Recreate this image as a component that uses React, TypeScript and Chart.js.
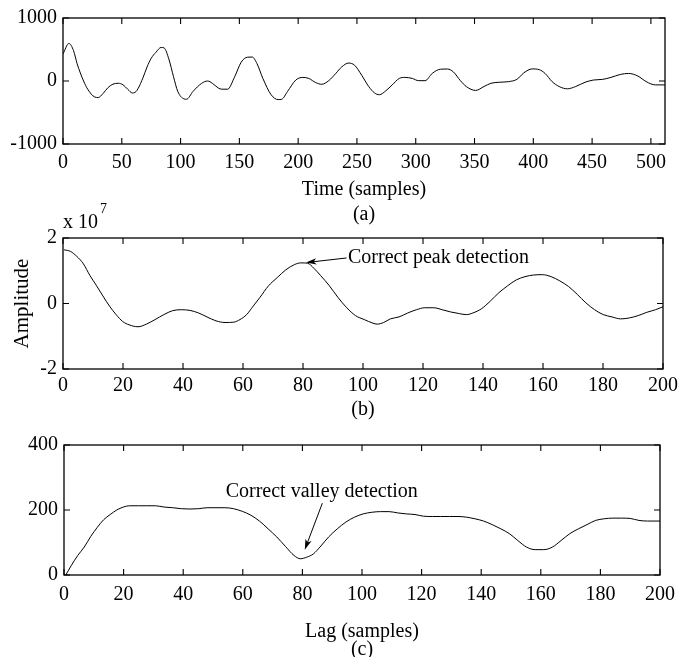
import React, { useEffect, useRef } from 'react';
import { Chart, registerables } from 'chart.js';

Chart.register(...registerables);

// ---------- DATA ----------
// (a) time signal
const timeX = [0, 5, 9, 12, 17.5, 21, 27, 30, 34, 38, 42.5, 47, 51, 55, 59, 62, 64, 68, 71.5, 75, 79, 83.5, 86, 90, 94, 97.6, 103, 105, 110.6, 118, 123, 127, 132, 135, 140, 146, 151.6, 157, 161, 165, 170, 177, 183, 186, 191, 198, 204, 209, 215, 220, 226, 232, 237, 243, 248, 254, 260, 265, 269, 274.6, 280, 286, 291, 297, 302.5, 308, 314, 321, 327, 332, 338, 343, 351, 358, 364, 371, 379, 386, 392, 399, 405, 410, 416, 422, 429, 436, 444, 451, 459, 466, 474, 481, 489, 496, 504, 512];
const timeY = [430, 596, 480, 275, 0, -130, -254, -262, -200, -110, -50, -36, -60, -130, -190, -170, -115, 50, 223, 360, 455, 533, 525, 350, 67, -165, -285, -290, -165, -36, 0, -36, -110, -130, -130, 67, 300, 378, 380, 275, 41, -218, -295, -290, -165, 15, 57, 41, -26, -52, 5, 120, 223, 285, 250, 93, -88, -190, -218, -155, -62, 41, 57, 41, 5, 5, 120, 187, 190, 145, 5, -88, -150, -88, -36, -20, -10, 26, 130, 192, 180, 120, -10, -88, -124, -88, -20, 15, 26, 57, 104, 120, 78, -10, -62, -62];

// (b) autocorrelation (x 10^7)
const lagB = [0.3, 2.5, 4.6, 6.8, 9, 11.2, 13.3, 15.5, 17.7, 19.9, 22, 25, 27.8, 30.7, 33.6, 36.5, 39.4, 42.3, 45.2, 48, 51, 54, 56.9, 59, 61.2, 63.4, 65.6, 68.5, 71.4, 74.3, 77.2, 79.3, 81.5, 83.7, 85.9, 88.8, 91.7, 94.6, 97.5, 100.4, 103.3, 104.7, 106.9, 109.1, 112, 114.9, 117.8, 120.6, 123.6, 126.4, 129.3, 132.2, 134.4, 136.6, 139.5, 142.4, 145.3, 148.2, 151.1, 154, 156.9, 159.8, 162.7, 165.6, 168.5, 171.4, 174.3, 177.2, 180.1, 183, 185.9, 188.8, 191.7, 194.6, 197.5, 200];
const acfY = [1.64, 1.59, 1.44, 1.21, 0.85, 0.54, 0.23, -0.08, -0.34, -0.55, -0.65, -0.71, -0.63, -0.49, -0.34, -0.22, -0.19, -0.21, -0.29, -0.41, -0.53, -0.58, -0.57, -0.49, -0.34, -0.08, 0.18, 0.54, 0.79, 1.03, 1.19, 1.24, 1.23, 1.07, 0.85, 0.54, 0.18, -0.13, -0.37, -0.49, -0.6, -0.63, -0.58, -0.47, -0.41, -0.29, -0.19, -0.13, -0.13, -0.19, -0.26, -0.31, -0.34, -0.29, -0.16, 0.07, 0.33, 0.54, 0.72, 0.82, 0.87, 0.88, 0.82, 0.69, 0.52, 0.28, 0.02, -0.19, -0.34, -0.41, -0.47, -0.44, -0.37, -0.27, -0.19, -0.1];

// (c) AMDF
const lagC = [0.6, 2.5, 4.6, 6.8, 9, 11.2, 13.3, 15.5, 17.7, 19.9, 22, 25, 27.8, 30.7, 33.6, 36.5, 39.4, 42.3, 45.2, 48, 51, 54, 56.9, 59.8, 62.7, 65.6, 68.5, 71.4, 74.3, 77.2, 79.3, 81.5, 83.7, 85.9, 88.8, 91.7, 94.6, 97.5, 100.4, 103.3, 106.2, 109.1, 112, 114.9, 117.8, 120.6, 123.6, 126.4, 129.3, 132.2, 135, 137.9, 140.8, 143.7, 146.6, 149.5, 152.3, 155.2, 158.1, 161, 163.9, 166.8, 169.7, 172.6, 175.5, 178.4, 181.3, 184.2, 187.1, 190, 192.9, 195.8, 200];
const amdfY = [0, 30, 60, 86, 119, 147, 170, 186, 200, 209, 213, 213, 213, 213, 209, 207, 204, 203, 204, 207, 207, 207, 204, 196, 184, 166, 142, 117, 88, 60, 50, 55, 65, 86, 117, 142, 163, 178, 188, 193, 195, 195, 191, 188, 186, 181, 180, 180, 180, 180, 178, 173, 166, 155, 142, 127, 106, 86, 78, 78, 86, 106, 127, 142, 155, 168, 173, 175, 175, 174, 168, 166, 166];

// ticks / labels
const timeRange = [0, 512];
const timeStep = 50;
const ampRangeA = [-1000, 1000];
const ampStepA = 1000;
const lagRange = [0, 200];
const lagStep = 20;
const acfRange = [-2, 2];
const acfStep = 2;
const amdfRange = [0, 400];
const amdfStep = 200;

const titleA = ['Time (samples)', '(a)'];
const titleB = '(b)';
const titleC = ['Lag (samples)', '(c)'];
const yTitleB = 'Amplitude';
const exponentB = ['x 10', '7'];

const peakText = 'Correct peak detection';
const peakTextAt = [95, 1.39];
const peakArrowFrom = [94.5, 1.39];
const peakArrowTo = [81, 1.25];

const valleyText = 'Correct valley detection';
const valleyTextAt = [86.5, 255];
const valleyArrowFrom = [86.7, 221];
const valleyArrowTo = [80.8, 78];

const FONT = "'Liberation Serif', 'Times New Roman', Times, serif";
const FS = 20;

// ---------- PLUGINS ----------
const framePlugin = {
  id: 'matlabFrame',
  afterDatasetsDraw(chart: any) {
    const { ctx, chartArea: a, scales } = chart;
    const tl = 6;
    ctx.save();
    ctx.strokeStyle = '#000';
    ctx.lineWidth = 1.3;
    ctx.strokeRect(a.left, a.top, a.right - a.left, a.bottom - a.top);
    ctx.lineWidth = 1.1;
    ctx.beginPath();
    const xs = scales.x;
    xs.ticks.forEach((t: any) => {
      const px = xs.getPixelForValue(t.value);
      ctx.moveTo(px, a.bottom); ctx.lineTo(px, a.bottom - tl);
      ctx.moveTo(px, a.top); ctx.lineTo(px, a.top + tl);
    });
    const ys = scales.y;
    ys.ticks.forEach((t: any) => {
      const py = ys.getPixelForValue(t.value);
      ctx.moveTo(a.left, py); ctx.lineTo(a.left + tl, py);
      ctx.moveTo(a.right, py); ctx.lineTo(a.right - tl, py);
    });
    ctx.stroke();
    ctx.restore();
  },
};

function drawArrow(ctx: CanvasRenderingContext2D, x1: number, y1: number, x2: number, y2: number) {
  const ang = Math.atan2(y2 - y1, x2 - x1);
  const len = 11;
  const spread = 0.3;
  ctx.beginPath();
  ctx.moveTo(x1, y1);
  ctx.lineTo(x2 - Math.cos(ang) * 4, y2 - Math.sin(ang) * 4);
  ctx.stroke();
  ctx.beginPath();
  ctx.moveTo(x2, y2);
  ctx.lineTo(x2 - len * Math.cos(ang - spread), y2 - len * Math.sin(ang - spread));
  ctx.lineTo(x2 - len * 0.7 * Math.cos(ang), y2 - len * 0.7 * Math.sin(ang));
  ctx.lineTo(x2 - len * Math.cos(ang + spread), y2 - len * Math.sin(ang + spread));
  ctx.closePath();
  ctx.fill();
}

const annotPlugin = {
  id: 'annot',
  afterDraw(chart: any, _args: any, opts: any) {
    const { ctx, scales, chartArea } = chart;
    const xs = scales.x, ys = scales.y;
    ctx.save();
    ctx.fillStyle = '#000';
    ctx.strokeStyle = '#000';
    ctx.lineWidth = 1;
    ctx.font = `${FS}px ${FONT}`;
    ctx.textBaseline = 'middle';
    if (opts.text) {
      ctx.textAlign = opts.align || 'left';
      ctx.fillText(opts.text, xs.getPixelForValue(opts.textAt[0]), ys.getPixelForValue(opts.textAt[1]));
      drawArrow(ctx,
        xs.getPixelForValue(opts.from[0]), ys.getPixelForValue(opts.from[1]),
        xs.getPixelForValue(opts.to[0]), ys.getPixelForValue(opts.to[1]));
    }
    if (opts.exponent) {
      ctx.textAlign = 'left';
      const base = opts.exponent[0];
      ctx.fillText(base, chartArea.left, chartArea.top - 15);
      const w = ctx.measureText(base).width;
      ctx.font = `14px ${FONT}`;
      ctx.fillText(opts.exponent[1], chartArea.left + w + 2, chartArea.top - 29);
    }
    ctx.restore();
  },
};

// ---------- CHART FACTORY ----------
type Cfg = {
  xs: number[]; ys: number[];
  xRange: number[]; xStep: number;
  yRange: number[]; yStep: number;
  yWidth: number; xHeight: number;
  padTop: number; padBottom: number; padRight: number;
  tickPad: number;
  xTitle: any; xTitleLH: number;
  yTitle?: string;
  annot: any;
};

function makeChart(canvas: HTMLCanvasElement, c: Cfg) {
  const pts = c.xs.map((x, i) => ({ x, y: c.ys[i] }));
  const plain = (v: any) => String(v);
  return new Chart(canvas, {
    type: 'line',
    data: {
      datasets: [{
        data: pts,
        borderColor: '#000',
        borderWidth: 1,
        pointRadius: 0,
        fill: false,
        cubicInterpolationMode: 'monotone',
      }],
    },
    options: {
      responsive: false,
      animation: false,
      devicePixelRatio: 1,
      layout: { padding: { top: c.padTop, bottom: c.padBottom, left: 0, right: c.padRight } },
      plugins: {
        legend: { display: false },
        tooltip: { enabled: false },
        annot: c.annot,
      } as any,
      scales: {
        x: {
          type: 'linear',
          min: c.xRange[0],
          max: c.xRange[1],
          grid: { display: false, drawTicks: false },
          border: { display: false },
          ticks: {
            stepSize: c.xStep,
            includeBounds: false,
            maxRotation: 0,
            autoSkip: false,
            padding: c.tickPad,
            color: '#000',
            font: { family: FONT, size: FS },
            callback: plain,
          },
          title: {
            display: true,
            text: c.xTitle,
            color: '#000',
            padding: { top: 0, bottom: 0 },
            font: { family: FONT, size: FS, lineHeight: c.xTitleLH },
          },
          afterFit: (s: any) => { s.height = c.xHeight; },
        },
        y: {
          type: 'linear',
          min: c.yRange[0],
          max: c.yRange[1],
          grid: { display: false, drawTicks: false },
          border: { display: false },
          ticks: {
            stepSize: c.yStep,
            padding: 6,
            color: '#000',
            font: { family: FONT, size: FS },
            callback: plain,
          },
          title: {
            display: !!c.yTitle,
            text: c.yTitle || '',
            color: '#000',
            padding: { top: 10, bottom: 0 },
            font: { family: FONT, size: 21, lineHeight: 1.2 },
          },
          afterFit: (s: any) => { s.width = c.yWidth; },
        },
      },
    } as any,
    plugins: [framePlugin, annotPlugin],
  });
}

function Panel({ top, height, cfg }: { top: number; height: number; cfg: Cfg }) {
  const ref = useRef<HTMLCanvasElement>(null);
  useEffect(() => {
    const ch = makeChart(ref.current!, cfg);
    return () => ch.destroy();
  }, []);
  return (
    <canvas
      ref={ref}
      width={683}
      height={height}
      style={{ position: 'absolute', left: 0, top, width: 683, height }}
    />
  );
}

const cfgA: Cfg = {
  xs: timeX, ys: timeY, xRange: timeRange, xStep: timeStep,
  yRange: ampRangeA, yStep: ampStepA,
  yWidth: 63, xHeight: 83.5, padTop: 13, padBottom: 4.5, padRight: 18,
  tickPad: 7, xTitle: titleA, xTitleLH: 25 / FS,
  annot: {},
};

const cfgB: Cfg = {
  xs: lagB, ys: acfY, xRange: lagRange, xStep: lagStep,
  yRange: acfRange, yStep: acfStep,
  yWidth: 63, xHeight: 53, padTop: 48, padBottom: 3, padRight: 18,
  tickPad: 5, xTitle: titleB, xTitleLH: 1.2,
  yTitle: yTitleB,
  annot: { text: peakText, textAt: peakTextAt, from: peakArrowFrom, to: peakArrowTo, align: 'left', exponent: exponentB },
};

const cfgC: Cfg = {
  xs: lagC, ys: amdfY, xRange: lagRange, xStep: lagStep,
  yRange: amdfRange, yStep: amdfStep,
  yWidth: 64, xHeight: 84, padTop: 20, padBottom: 6, padRight: 17,
  tickPad: 8, xTitle: titleC, xTitleLH: 18 / FS,
  annot: { text: valleyText, textAt: valleyTextAt, from: valleyArrowFrom, to: valleyArrowTo, align: 'center' },
};

export default function App() {
  return (
    <div style={{ position: 'absolute', left: 0, top: 0, width: 683, height: 657, overflow: 'hidden', background: '#fff' }}>
      <Panel top={0} height={232} cfg={cfgA} />
      <Panel top={190} height={235} cfg={cfgB} />
      <Panel top={425} height={240} cfg={cfgC} />
    </div>
  );
}
